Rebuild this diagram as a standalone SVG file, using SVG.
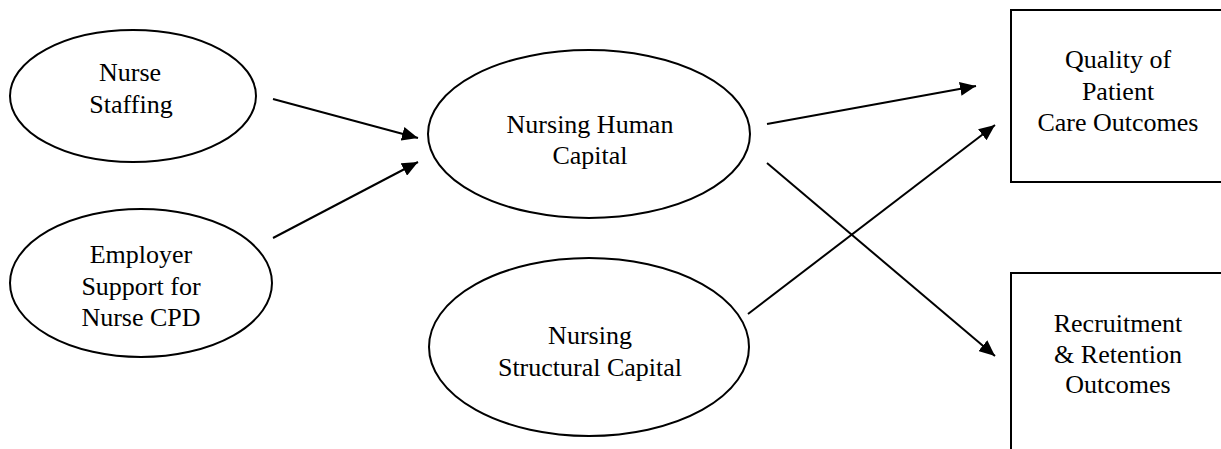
<svg xmlns="http://www.w3.org/2000/svg" width="1221" height="449" viewBox="0 0 1221 449">
<style>
.n{fill:#fff;stroke:#000;stroke-width:2}
.t{font-family:'Liberation Serif','Times New Roman',serif;font-size:26px;fill:#000;text-anchor:middle}
.c{stroke:#000;stroke-width:2;fill:none;marker-end:url(#ah)}
</style>
<defs>
<marker id="ah" markerWidth="16" markerHeight="14" refX="16" refY="7" orient="auto" markerUnits="userSpaceOnUse">
<path d="M0,0 L16,7 L0,14 Z" fill="#000"/>
</marker>
</defs>
<rect width="1221" height="449" fill="#fff"/>
<g id="nurse-staffing">
<ellipse class="n" cx="133" cy="96" rx="123" ry="66"/>
<text class="t" x="130" y="81">Nurse</text>
<text class="t" x="131" y="113">Staffing</text>
</g>
<g id="employer-support">
<ellipse class="n" cx="141" cy="283" rx="131" ry="74"/>
<text class="t" x="141" y="263">Employer</text>
<text class="t" x="141" y="295">Support for</text>
<text class="t" x="141" y="326">Nurse CPD</text>
</g>
<g id="human-capital">
<ellipse class="n" cx="589" cy="134" rx="161" ry="84"/>
<text class="t" x="590" y="133">Nursing Human</text>
<text class="t" x="590" y="164">Capital</text>
</g>
<g id="structural-capital">
<ellipse class="n" cx="589" cy="347" rx="160" ry="89"/>
<text class="t" x="590" y="344">Nursing</text>
<text class="t" x="590" y="376">Structural Capital</text>
</g>
<g id="quality-outcomes">
<rect class="n" x="1011" y="10" width="220" height="172"/>
<text class="t" x="1118" y="68">Quality of</text>
<text class="t" x="1118" y="100">Patient</text>
<text class="t" x="1118" y="131">Care Outcomes</text>
</g>
<g id="recruitment-outcomes">
<rect class="n" x="1011" y="273" width="220" height="190"/>
<text class="t" x="1118" y="332">Recruitment</text>
<text class="t" x="1118" y="363">&amp; Retention</text>
<text class="t" x="1118" y="393">Outcomes</text>
</g>
<g id="connectors">
<line class="c" x1="273" y1="99" x2="418" y2="138"/>
<line class="c" x1="273" y1="238" x2="418" y2="162"/>
<line class="c" x1="767" y1="124" x2="976" y2="86"/>
<line class="c" x1="748" y1="314" x2="995" y2="125"/>
<line class="c" x1="767" y1="163" x2="995" y2="356"/>
</g>
</svg>
